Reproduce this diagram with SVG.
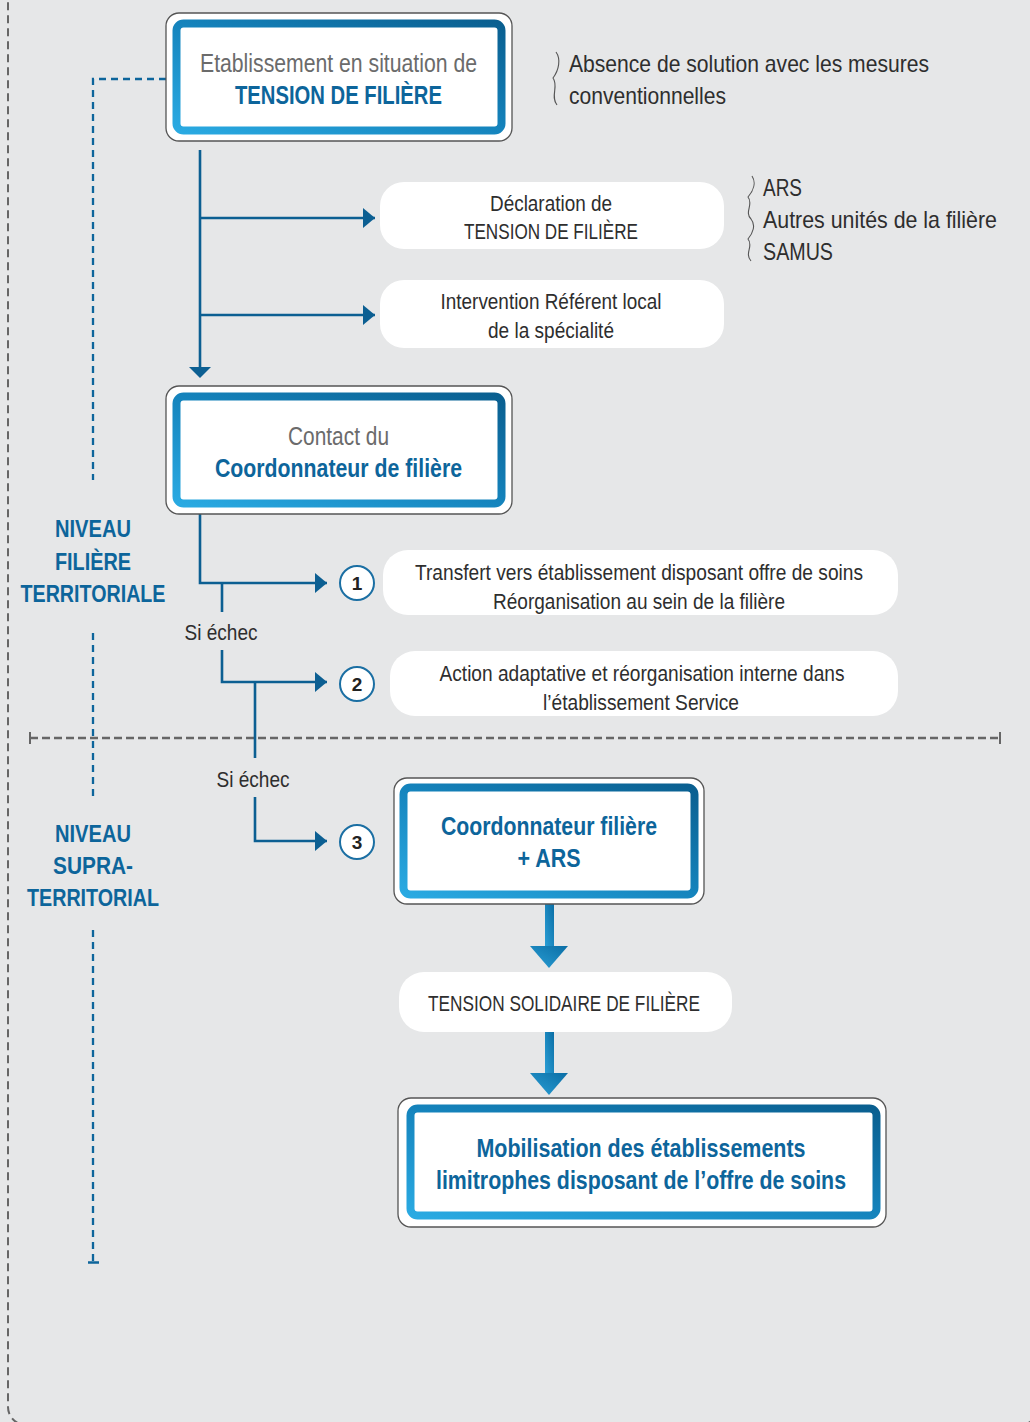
<svg xmlns="http://www.w3.org/2000/svg" width="1030" height="1422" viewBox="0 0 1030 1422">
<defs>
<linearGradient id="bg" x1="0" y1="1" x2="1" y2="0">
<stop offset="0" stop-color="#2aaae2"/>
<stop offset="0.5" stop-color="#1584bd"/>
<stop offset="1" stop-color="#0a5f90"/>
</linearGradient>
<linearGradient id="ag" x1="0" y1="1" x2="1" y2="0">
<stop offset="0" stop-color="#2a9fd6"/>
<stop offset="1" stop-color="#0b6ea5"/>
</linearGradient>
<marker id="ah" viewBox="0 0 12 20" refX="12" refY="10" markerWidth="12" markerHeight="20" markerUnits="userSpaceOnUse" orient="auto">
<path d="M0,0 L12,10 L0,20 Z" fill="#0c5f92"/>
</marker>
</defs>
<style>
text{font-family:"Liberation Sans Narrow","Liberation Sans",Arial,sans-serif;}
.outer{fill:#fff;stroke:#555;stroke-width:1.3;}
.inner{fill:#fff;stroke:url(#bg);stroke-width:8;}
.pill{fill:#fff;stroke:none;}
.gray{fill:#6b6b6b;font-size:25px;}
.blue{fill:#0d659b;font-size:25px;font-weight:bold;}
.dark{fill:#2e2e2e;font-size:22px;}
.note{fill:#2e2e2e;font-size:24px;}
.conn{fill:none;stroke:#0c5f92;stroke-width:2.6;}
.num{fill:#fff;stroke:#1b6fa3;stroke-width:2;}
.numt{fill:#222;font-size:19px;font-weight:bold;}
.brace{fill:none;stroke:#555;stroke-width:1.1;}
.lvl{fill:#0d659b;font-size:24px;font-weight:bold;}
</style>
<rect width="1030" height="1422" fill="#e6e7e8"/>
<rect x="8" y="-30" width="1030" height="1455" rx="18" fill="none" stroke="#666" stroke-width="2" stroke-dasharray="8 5"/>

<g id="levels">
<path d="M166,79 H93 V480" fill="none" stroke="#0d659b" stroke-width="2.3" stroke-dasharray="7 5"/>
<path d="M93,633 V798" fill="none" stroke="#0d659b" stroke-width="2.3" stroke-dasharray="7 5"/>
<path d="M93,930 V1262" fill="none" stroke="#0d659b" stroke-width="2.3" stroke-dasharray="7 5"/>
<path d="M88,1262.5 H99" stroke="#0d659b" stroke-width="2.5"/>
<path d="M30,738 H1000" fill="none" stroke="#666" stroke-width="2.5" stroke-dasharray="8 4"/>
<path d="M30,732 V744 M1000,732 V744" stroke="#666" stroke-width="2"/>
<text class="lvl" x="93" y="537" text-anchor="middle" textLength="76" lengthAdjust="spacingAndGlyphs">NIVEAU</text>
<text class="lvl" x="93" y="570" text-anchor="middle" textLength="76" lengthAdjust="spacingAndGlyphs">FILIÈRE</text>
<text class="lvl" x="93" y="602" text-anchor="middle" textLength="145" lengthAdjust="spacingAndGlyphs">TERRITORIALE</text>
<text class="lvl" x="93" y="842" text-anchor="middle" textLength="76" lengthAdjust="spacingAndGlyphs">NIVEAU</text>
<text class="lvl" x="93" y="874" text-anchor="middle" textLength="80" lengthAdjust="spacingAndGlyphs">SUPRA-</text>
<text class="lvl" x="93" y="906" text-anchor="middle" textLength="132" lengthAdjust="spacingAndGlyphs">TERRITORIAL</text>
</g>

<g id="connectors">
<path class="conn" d="M200,150 V368"/>
<path d="M189,367 L211,367 L200,378 Z" fill="#0c5f92"/>
<path class="conn" d="M200,218 H375" marker-end="url(#ah)"/>
<path class="conn" d="M200,315 H375" marker-end="url(#ah)"/>
<path class="conn" d="M200,514 V583 H327" marker-end="url(#ah)"/>
<path class="conn" d="M222,583 V612"/>
<path class="conn" d="M222,650 V682 H327" marker-end="url(#ah)"/>
<path class="conn" d="M255,682 V758"/>
<path class="conn" d="M255,797 V841 H327" marker-end="url(#ah)"/>
<text class="dark" x="221" y="640" text-anchor="middle" textLength="73" lengthAdjust="spacingAndGlyphs" font-size="21">Si échec</text>
<text class="dark" x="253" y="787" text-anchor="middle" textLength="73" lengthAdjust="spacingAndGlyphs" font-size="21">Si échec</text>
<rect x="545" y="904" width="9" height="44" fill="url(#ag)"/>
<path d="M530,946 L568,946 L549,968 Z" fill="url(#ag)"/>
<rect x="545" y="1032" width="9" height="42" fill="url(#ag)"/>
<path d="M530,1073 L568,1073 L549,1095 Z" fill="url(#ag)"/>
</g>

<g id="num1"><circle class="num" cx="357" cy="583" r="17"/><text class="numt" x="357" y="590" text-anchor="middle">1</text></g>
<g id="num2"><circle class="num" cx="357" cy="684" r="17"/><text class="numt" x="357" y="691" text-anchor="middle">2</text></g>
<g id="num3"><circle class="num" cx="357" cy="842" r="17"/><text class="numt" x="357" y="849" text-anchor="middle">3</text></g>

<g id="node-etablissement">
<rect class="outer" x="166" y="13" width="346" height="128" rx="13"/>
<rect class="inner" x="176.5" y="23.5" width="325" height="107" rx="7"/>
<text class="gray" x="338.5" y="72" text-anchor="middle" textLength="277" lengthAdjust="spacingAndGlyphs">Etablissement en situation de</text>
<text class="blue" x="338.5" y="104" text-anchor="middle" textLength="207" lengthAdjust="spacingAndGlyphs">TENSION DE FILIÈRE</text>
</g>

<g id="note-absence">
<path class="brace" d="M556,52 C561,59 559,70 553,78 C559,86 550,96 557,105"/>
<text class="note" x="569" y="72" textLength="360" lengthAdjust="spacingAndGlyphs">Absence de solution avec les mesures</text>
<text class="note" x="569" y="104" textLength="157" lengthAdjust="spacingAndGlyphs">conventionnelles</text>
</g>

<g id="node-declaration">
<rect class="pill" x="380" y="182" width="344" height="67" rx="24"/>
<text class="dark" x="551" y="211" text-anchor="middle" textLength="122" lengthAdjust="spacingAndGlyphs">Déclaration de</text>
<text class="dark" x="551" y="239" text-anchor="middle" textLength="174" lengthAdjust="spacingAndGlyphs">TENSION DE FILIÈRE</text>
</g>

<g id="note-ars">
<path class="brace" d="M752,176 C756,182 754,190 748,197 C754,204 744,212 751,219 C756,225 753,233 748,239 C754,246 744,253 751,261"/>
<text class="note" x="763" y="196" textLength="39" lengthAdjust="spacingAndGlyphs">ARS</text>
<text class="note" x="763" y="228" textLength="234" lengthAdjust="spacingAndGlyphs">Autres unités de la filière</text>
<text class="note" x="763" y="260" textLength="70" lengthAdjust="spacingAndGlyphs">SAMUS</text>
</g>

<g id="node-intervention">
<rect class="pill" x="380" y="280" width="344" height="68" rx="24"/>
<text class="dark" x="551" y="309" text-anchor="middle" textLength="221" lengthAdjust="spacingAndGlyphs">Intervention Référent local</text>
<text class="dark" x="551" y="338" text-anchor="middle" textLength="126" lengthAdjust="spacingAndGlyphs">de la spécialité</text>
</g>

<g id="node-contact">
<rect class="outer" x="166" y="386" width="346" height="128" rx="13"/>
<rect class="inner" x="176.5" y="396.5" width="325" height="107" rx="7"/>
<text class="gray" x="338.5" y="445" text-anchor="middle" textLength="101" lengthAdjust="spacingAndGlyphs">Contact du</text>
<text class="blue" x="338.5" y="477" text-anchor="middle" textLength="247" lengthAdjust="spacingAndGlyphs">Coordonnateur de filière</text>
</g>

<g id="node-transfert">
<rect class="pill" x="383" y="550" width="515" height="65" rx="25"/>
<text class="dark" x="639" y="580" text-anchor="middle" textLength="448" lengthAdjust="spacingAndGlyphs">Transfert vers établissement disposant offre de soins</text>
<text class="dark" x="639" y="609" text-anchor="middle" textLength="292" lengthAdjust="spacingAndGlyphs">Réorganisation au sein de la filière</text>
</g>

<g id="node-action">
<rect class="pill" x="390" y="651" width="508" height="65" rx="25"/>
<text class="dark" x="642" y="681" text-anchor="middle" textLength="405" lengthAdjust="spacingAndGlyphs">Action adaptative et réorganisation interne dans</text>
<text class="dark" x="641" y="710" text-anchor="middle" textLength="196" lengthAdjust="spacingAndGlyphs">l’établissement Service</text>
</g>

<g id="node-coord-ars">
<rect class="outer" x="394" y="778" width="310" height="126" rx="13"/>
<rect class="inner" x="403.5" y="787.5" width="291" height="107" rx="7"/>
<text class="blue" x="549" y="835" text-anchor="middle" textLength="216" lengthAdjust="spacingAndGlyphs">Coordonnateur filière</text>
<text class="blue" x="549" y="867" text-anchor="middle" textLength="63" lengthAdjust="spacingAndGlyphs">+ ARS</text>
</g>

<g id="node-solidaire">
<rect class="pill" x="399" y="972" width="333" height="60" rx="25"/>
<text class="dark" x="564" y="1011" text-anchor="middle" textLength="272" lengthAdjust="spacingAndGlyphs">TENSION SOLIDAIRE DE FILIÈRE</text>
</g>

<g id="node-mobilisation">
<rect class="outer" x="398" y="1098" width="488" height="129" rx="13"/>
<rect class="inner" x="410.5" y="1108.5" width="466" height="107" rx="7"/>
<text class="blue" x="641" y="1157" text-anchor="middle" textLength="329" lengthAdjust="spacingAndGlyphs">Mobilisation des établissements</text>
<text class="blue" x="641" y="1189" text-anchor="middle" textLength="410" lengthAdjust="spacingAndGlyphs">limitrophes disposant de l’offre de soins</text>
</g>
</svg>
